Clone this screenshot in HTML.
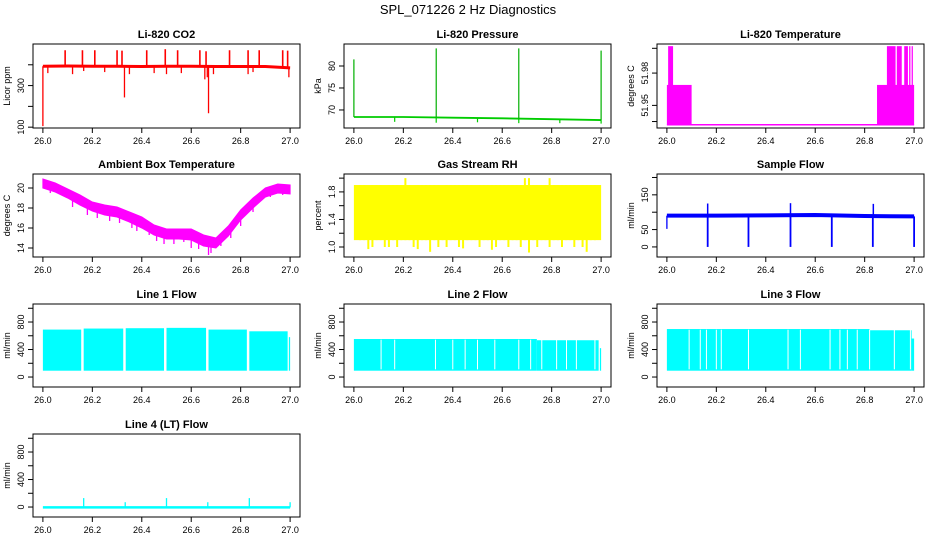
<!DOCTYPE html>
<html><head><meta charset="utf-8">
<style>
html,body{margin:0;padding:0;background:#fff;}
svg{display:block;font-family:"Liberation Sans",sans-serif;}
</style></head>
<body>
<svg id="chart" width="936" height="540" viewBox="0 0 936 540">
<text x="468" y="14" text-anchor="middle" font-size="13">SPL_071226  2 Hz Diagnostics</text>
</svg>
<script>
// ---------- data ----------
const xTicks = [26.0, 26.2, 26.4, 26.6, 26.8, 27.0];
const xTickLabels = ["26.0", "26.2", "26.4", "26.6", "26.8", "27.0"];

// CO2
const co2BaseX = [26.0, 26.1, 26.2, 26.3, 26.4, 26.5, 26.6, 26.7, 26.8, 26.9, 27.0];
const co2BaseY = [393, 394, 393, 393, 392, 393, 393, 392, 392, 392, 385];
const co2SpikeX = [26.09, 26.16, 26.21, 26.30, 26.32, 26.42, 26.495, 26.545, 26.635, 26.66, 26.755, 26.83, 26.875, 26.97, 26.99];
const co2SpikeY = [470, 470, 470, 470, 468, 470, 475, 470, 470, 465, 470, 470, 470, 470, 468];
const co2DipX = [26.0, 26.02, 26.12, 26.165, 26.25, 26.33, 26.35, 26.45, 26.5, 26.56, 26.655, 26.665, 26.67, 26.69, 26.83, 26.85, 26.995];
const co2DipY = [105, 360, 355, 370, 365, 243, 355, 360, 355, 360, 330, 340, 167, 355, 355, 365, 340];

// Pressure
const presBaseX = [26.0, 26.2, 26.4, 26.6, 26.8, 27.0];
const presBaseY = [68.4, 68.4, 68.25, 68.1, 67.9, 67.7];
const presSpikeX = [26.0, 26.333, 26.667, 27.0];
const presSpikeY = [81.5, 84.0, 84.0, 83.5];
const presDipX = [26.165, 26.333, 26.5, 26.667, 26.833, 27.0];
const presDipY = [67.3, 67.1, 67.2, 67.0, 67.0, 66.9];

// Temperature blocks
const tempBlockStart = [26.0, 26.005, 26.85, 26.89, 26.93, 26.96, 26.98, 26.99];
const tempBlockEnd   = [26.1, 26.025, 27.0, 26.925, 26.95, 26.975, 26.985, 26.995];
const tempBlockHigh  = [51.969, 52.005, 51.969, 52.005, 52.005, 52.005, 52.005, 52.005];
const tempLow = 51.932;

// Ambient temp envelope
const ambX = [26.0,26.05,26.1,26.15,26.2,26.25,26.3,26.35,26.4,26.45,26.5,26.55,26.6,26.65,26.7,26.75,26.8,26.85,26.9,26.95,27.0];
const ambHigh = [20.9,20.5,19.9,19.3,18.6,18.3,18.1,17.6,17.1,16.3,15.9,15.9,15.9,15.3,15.0,16.2,17.8,19.0,20.0,20.4,20.3];
const ambLow  = [20.0,19.6,19.0,18.3,17.7,17.3,17.1,16.6,16.0,15.3,14.9,14.9,14.8,14.2,14.0,15.2,16.8,18.0,19.1,19.5,19.4];
const ambDipX = [26.03,26.12,26.18,26.22,26.27,26.31,26.36,26.38,26.43,26.46,26.49,26.53,26.57,26.6,26.63,26.67,26.68,26.72,26.76,26.8,26.85,26.92,26.97];
const ambDipY = [19.5,18.1,17.3,17.0,16.7,16.5,16.0,15.7,15.3,14.7,14.4,14.4,14.6,14.0,13.9,13.3,13.5,14.2,15.0,16.2,17.6,19.1,19.3];

// Gas stream RH per-bin extremes
const rhHigh = [1.8,1.9,1.9,1.8,1.9,1.9,1.9,1.8,1.9,1.9,1.9,1.9,2.0,1.9,1.8,1.9,1.9,1.9,1.9,1.9,1.9,1.8,1.9,1.9,1.9,1.9,1.9,1.9,1.9,1.8,1.9,1.9,1.9,1.9,1.9,1.9,1.9,1.9,1.9,1.9,1.9,2.0,2.0,1.9,1.9,1.9,1.9,2.0,1.9,1.9,1.9,1.9,1.9,1.9,1.9,1.9,1.9,1.9,1.9,1.8];
const rhLow  = [1.4,1.1,1.1,0.97,1.0,1.1,1.1,1.0,1.0,1.1,1.0,1.1,1.1,1.1,1.0,0.97,1.1,1.1,0.93,1.1,1.0,1.1,1.0,1.1,1.1,1.0,0.98,1.1,1.1,1.1,1.0,1.1,1.1,0.96,1.0,1.1,1.1,1.0,1.1,1.1,1.0,1.1,0.92,1.1,1.0,1.1,1.1,1.0,1.1,1.1,1.0,1.1,1.1,1.0,1.1,1.0,0.93,1.1,1.1,1.3];

// Sample flow
const sfBaseX = [26.0, 26.2, 26.4, 26.6, 26.8, 27.0];
const sfBaseY = [90, 90, 91, 92, 89, 88];
const sfSpikeX = [26.165, 26.5, 26.835];
const sfSpikeY = [125, 126, 124];
const sfDipX = [26.165, 26.33, 26.5, 26.667, 26.833, 27.0];
const sfDipY = [0, 0, 0, 0, 0, 0];

// Line flows
const l1Start = [26.0, 26.165, 26.335, 26.5, 26.67, 26.835, 26.995];
const l1End   = [26.155, 26.325, 26.49, 26.66, 26.825, 26.99, 27.0];
const l1Top   = [690, 705, 710, 715, 690, 665, 580];
const l2Start = [26.0, 26.74, 26.995];
const l2End   = [26.74, 26.99, 27.0];
const l2Top   = [553, 535, 420];
const l2Gaps  = [26.11, 26.165, 26.33, 26.40, 26.45, 26.50, 26.57, 26.667, 26.715, 26.76, 26.82, 26.86, 26.90, 26.975];
const l3Start = [26.0, 26.82, 26.99];
const l3End   = [26.82, 26.99, 27.0];
const l3Top   = [698, 680, 560];
const l3Gaps  = [26.09, 26.135, 26.16, 26.2, 26.22, 26.33, 26.49, 26.54, 26.66, 26.70, 26.73, 26.77, 26.82, 26.92, 26.985];
const lineBottom = 92;
const l4Base = -5;
const l4SpikeX = [26.165, 26.333, 26.5, 26.667, 26.835, 27.0];
const l4SpikeY = [130, 70, 130, 70, 130, 70];

// ---------- layout ----------
const svg = document.getElementById('chart');
const NS = 'http://www.w3.org/2000/svg';
const COLS = [[33, 300], [344, 611], [657, 924]];
const ROWS = [[44, 128], [174, 257], [304, 387], [434, 517]];
const XMIN = 25.96, XMAX = 27.04;

function mk(tag, attrs, parent) {
  const e = document.createElementNS(NS, tag);
  for (const k in attrs) e.setAttribute(k, attrs[k]);
  (parent || svg).appendChild(e);
  return e;
}

function panel(col, row, ylim, title, ylab, yTicks, yLabels, name) {
  const [x0, x1] = COLS[col], [y0, y1] = ROWS[row];
  const g = mk('g', {});
  
  
  const p = {
    g, x0, x1, y0, y1,
    xs: v => x0 + (v - XMIN) / (XMAX - XMIN) * (x1 - x0),
    ys: v => y1 - (v - ylim[0]) / (ylim[1] - ylim[0]) * (y1 - y0)
  };
  const t = mk('text', {x: (x0 + x1) / 2, y: y0 - 6, 'text-anchor': 'middle', 'font-size': 11, 'font-weight': 'bold'}, g);
  t.textContent = title;
  
  
  const box = mk('rect', {x: x0, y: y0, width: x1 - x0, height: y1 - y0, fill: 'none', stroke: '#000', 'stroke-width': 1}, g);
  
  
  const xa = mk('g', {}, g);
  
  
  mk('line', {x1: p.xs(xTicks[0]), x2: p.xs(xTicks[xTicks.length - 1]), y1: y1, y2: y1, stroke: '#000'}, xa);
  xTicks.forEach((v, i) => {
    mk('line', {x1: p.xs(v), x2: p.xs(v), y1: y1, y2: y1 + 5, stroke: '#000'}, xa);
    const tl = mk('text', {x: p.xs(v), y: y1 + 16, 'text-anchor': 'middle', 'font-size': 9}, xa);
    tl.textContent = xTickLabels[i];
  });
  const ya = mk('g', {}, g);
  
  
  mk('line', {x1: x0, x2: x0, y1: p.ys(yTicks[0]), y2: p.ys(yTicks[yTicks.length - 1]), stroke: '#000'}, ya);
  yTicks.forEach((v, i) => {
    mk('line', {x1: x0 - 5, x2: x0, y1: p.ys(v), y2: p.ys(v), stroke: '#000'}, ya);
    if (yLabels[i]) {
      const yy = p.ys(v), xx = x0 - 9;
      const tl = mk('text', {x: xx, y: yy, 'text-anchor': 'middle', 'font-size': 9, transform: `rotate(-90 ${xx} ${yy})`}, ya);
      tl.textContent = yLabels[i];
    }
  });
  const yl = mk('text', {x: x0 - 23, y: (y0 + y1) / 2, 'text-anchor': 'middle', 'font-size': 9, transform: `rotate(-90 ${x0 - 23} ${(y0 + y1) / 2})`}, g);
  yl.textContent = ylab;
  
  
  const clip = mk('clipPath', {id: 'clip-' + name}, g);
  mk('rect', {x: x0, y: y0, width: x1 - x0, height: y1 - y0}, clip);
  p.plot = mk('g', {'clip-path': `url(#clip-${name})`}, g);
  
  
  return p;
}
function poly(p, xsArr, ysArr, color, w) {
  mk('polyline', {points: xsArr.map((v, i) => p.xs(v) + ',' + p.ys(ysArr[i])).join(' '), fill: 'none', stroke: color, 'stroke-width': w || 1}, p.plot);
}
function vline(p, x, ya, yb, color, w) {
  mk('line', {x1: p.xs(x), x2: p.xs(x), y1: p.ys(ya), y2: p.ys(yb), stroke: color, 'stroke-width': w || 1.3}, p.plot);
}
function interp(xa, ya, x) {
  for (let i = 0; i < xa.length - 1; i++) if (x <= xa[i + 1]) return ya[i] + (ya[i + 1] - ya[i]) * (x - xa[i]) / (xa[i + 1] - xa[i]);
  return ya[ya.length - 1];
}
function rectv(p, xa, xb, ya, yb, color) {
  mk('rect', {x: p.xs(xa), y: p.ys(yb), width: Math.max(0.8, p.xs(xb) - p.xs(xa)), height: Math.max(0.8, p.ys(ya) - p.ys(yb)), fill: color}, p.plot);
}

// CO2
let p = panel(0, 0, [96, 500], 'Li-820 CO2', 'Licor ppm', [100, 200, 300, 400], ['100', '', '300', ''], 'co2');
poly(p, co2BaseX, co2BaseY, '#ff0000', 3);
co2SpikeX.forEach((x, i) => vline(p, x, interp(co2BaseX, co2BaseY, x), co2SpikeY[i], '#ff0000', 1.6));
co2DipX.forEach((x, i) => vline(p, x, interp(co2BaseX, co2BaseY, x), co2DipY[i], '#ff0000', 1.3));

// Pressure
p = panel(1, 0, [65.9, 85], 'Li-820 Pressure', 'kPa', [70, 75, 80], ['70', '75', '80'], 'pressure');
poly(p, presBaseX, presBaseY, '#00cc00', 1.8);
presSpikeX.forEach((x, i) => vline(p, x, interp(presBaseX, presBaseY, x), presSpikeY[i], '#00b000', 1.2));
presDipX.forEach((x, i) => vline(p, x, interp(presBaseX, presBaseY, x), presDipY[i], '#00cc00', 1.2));

// Temperature
p = panel(2, 0, [51.929, 52.007], 'Li-820 Temperature', 'degrees C', [51.935, 51.95, 51.98, 52.003], ['', '51.95', '51.98', ''], 'li820-temperature');
poly(p, [26.0, 27.0], [tempLow, tempLow], '#ff00ff', 1.5);
tempBlockStart.forEach((s, i) => rectv(p, s, tempBlockEnd[i], tempLow, tempBlockHigh[i], '#ff00ff'));

// Ambient
p = panel(0, 1, [13.1, 21.4], 'Ambient Box Temperature', 'degrees C', [14, 16, 18, 20], ['14', '16', '18', '20'], 'ambient-temperature');
mk('polygon', {points: ambX.map((x, i) => p.xs(x) + ',' + p.ys(ambHigh[i])).concat(ambX.slice().reverse().map((x, i) => p.xs(x) + ',' + p.ys(ambLow[ambX.length - 1 - i]))).join(' '), fill: '#ff00ff', stroke: '#ff00ff', 'stroke-width': 1}, p.plot);
ambDipX.forEach((x, i) => vline(p, x, interp(ambX, ambLow, x) + 0.3, ambDipY[i], '#ff00ff', 1.3));

// RH
p = panel(1, 1, [0.855, 2.06], 'Gas Stream RH', 'percent', [1.0, 1.2, 1.4, 1.6, 1.8, 2.0], ['1.0', '', '1.4', '', '1.8', ''], 'gas-stream-rh');
const rhN = rhHigh.length;
rectv(p, 26.0, 27.0, 1.1, 1.9, '#ffff00');
rhHigh.forEach((h, i) => {
  const xa = 26.0 + i / rhN, xb = 26.0 + (i + 1) / rhN;
  vline(p, (xa + xb) / 2, 1.85, h, '#ffff00', 2);
  vline(p, (xa + xb) / 2, 1.15, rhLow[i], '#ffff00', 2);
});

// Sample flow
p = panel(2, 1, [-29, 210], 'Sample Flow', 'ml/min', [0, 50, 100, 150, 200], ['0', '50', '', '150', ''], 'sample-flow');
poly(p, sfBaseX, sfBaseY, '#0000ff', 4);
vline(p, 26.0, 52, 90, '#0000ff', 1.3);
sfSpikeX.forEach((x, i) => vline(p, x, interp(sfBaseX, sfBaseY, x), sfSpikeY[i], '#0000ff', 1.5));
sfDipX.forEach((x, i) => vline(p, x, interp(sfBaseX, sfBaseY, x), sfDipY[i], '#0000ff', 1.8));

// Line flows
const flowTicks = [0, 200, 400, 600, 800, 1000];
const flowLabels = ['0', '', '400', '', '800', ''];
function linePanel(col, row, title, name, st, en, tp, gaps) {
  const q = panel(col, row, [-145, 1062], title, 'ml/min', flowTicks, flowLabels, name);
  st.forEach((s, i) => rectv(q, s, en[i], lineBottom, tp[i], '#00ffff'));
  gaps.forEach(gx => mk('line', {x1: q.xs(gx), x2: q.xs(gx), y1: q.ys(lineBottom + 20), y2: q.ys(Math.max(...tp) - 10), stroke: '#fff', 'stroke-width': 1}, q.plot));
  return q;
}
linePanel(0, 2, 'Line 1 Flow', 'line-1-flow', l1Start, l1End, l1Top, []);
linePanel(1, 2, 'Line 2 Flow', 'line-2-flow', l2Start, l2End, l2Top, l2Gaps);
linePanel(2, 2, 'Line 3 Flow', 'line-3-flow', l3Start, l3End, l3Top, l3Gaps);

p = panel(0, 3, [-145, 1062], 'Line 4 (LT) Flow', 'ml/min', flowTicks, flowLabels, 'line-4-flow');
poly(p, [26.0, 27.0], [l4Base, l4Base], '#00ffff', 2.5);
l4SpikeX.forEach((x, i) => vline(p, x, l4Base, l4SpikeY[i], '#00ffff', 1.3));
</script>
</body></html>
